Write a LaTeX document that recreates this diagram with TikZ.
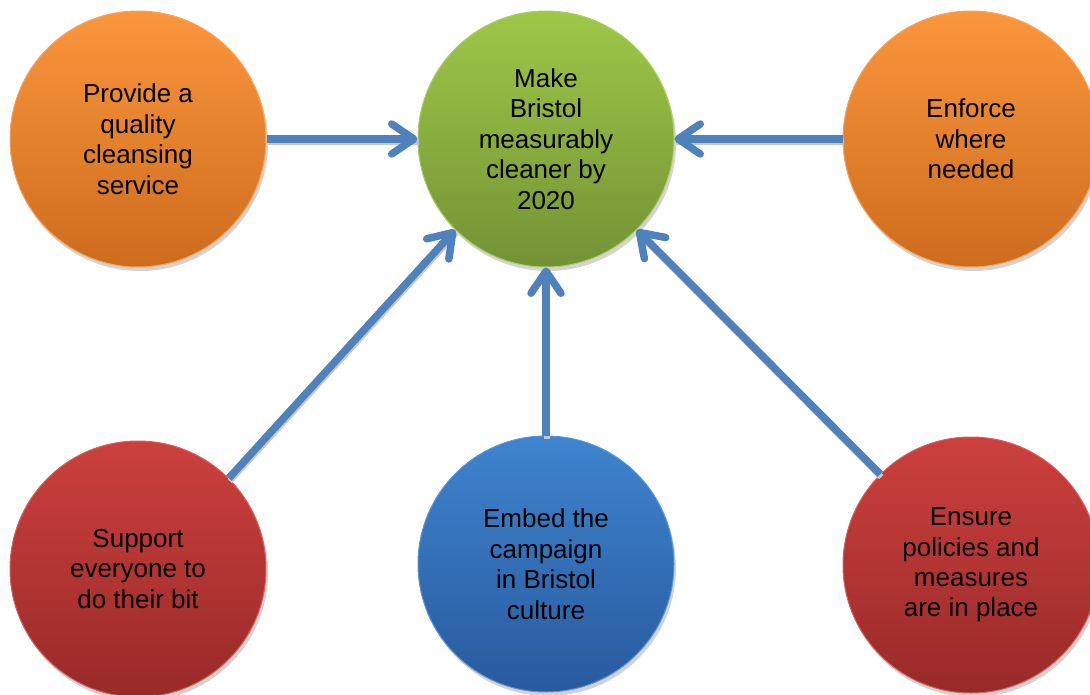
\documentclass[tikz,border=0pt]{standalone}
\usepackage{fontspec}
\setmainfont{Liberation Sans}
\usetikzlibrary{arrows.meta,positioning,shadows}

\definecolor{arrowblue}{RGB}{79,129,189}

\begin{document}
\begin{tikzpicture}[
  x=1pt,y=1pt,
  bub/.style={circle,minimum size=256pt,inner sep=0pt,align=center,
              font=\fontsize{26pt}{30.5pt}\selectfont,line width=1pt,
              drop shadow={shadow xshift=2pt,shadow yshift=-4pt,opacity=0.35}},
  aim/.style={bub,top color={rgb,255:red,158;green,199;blue,72},
              bottom color={rgb,255:red,116;green,146;blue,52},
              draw={rgb,255:red,170;green,208;blue,95}},
  ops/.style={bub,top color={rgb,255:red,250;green,150;blue,60},
              bottom color={rgb,255:red,206;green,108;blue,30},
              draw={rgb,255:red,250;green,166;blue,90}},
  care/.style={bub,top color={rgb,255:red,204;green,64;blue,62},
               bottom color={rgb,255:red,152;green,42;blue,40},
               draw={rgb,255:red,214;green,96;blue,92}},
  cult/.style={bub,top color={rgb,255:red,62;green,132;blue,206},
               bottom color={rgb,255:red,40;green,90;blue,158},
               draw={rgb,255:red,92;green,150;blue,214}},
  arr/.style={-{Straight Barb[length=22pt,width=30pt,line width=0pt 1,
                line cap=round,line join=round]},
              line width=7.5pt,draw=arrowblue,
              preaction={draw=black!22,-,line width=6pt,
                         transform canvas={shift={(1pt,-3pt)}}}}
]
\useasboundingbox (0,0) rectangle (1090,-695);

% centre goal
\node[aim] (goal) at (546,-139) {Make\\Bristol\\measurably\\cleaner by\\2020};

% top row
\node[ops,left=151pt of goal] (service) {Provide a\\quality\\cleansing\\service};
\node[ops,right=168pt of goal] (enforce) {Enforce\\where\\needed};

% bottom row
\node[care,below=173pt of service] (support) {Support\\everyone to\\do their bit};
\node[cult,below=168pt of goal] (embed) {Embed the\\campaign\\in Bristol\\culture};
\node[care,below=169pt of enforce] (policy) {Ensure\\policies and\\measures\\are in place};

\draw[arr] (service) -- (goal);
\draw[arr] (enforce) -- (goal);
\draw[arr] (support.45) -- (goal.225);
\draw[arr] (embed) -- (goal);
\draw[arr] (policy.135) -- (goal.315);
\end{tikzpicture}
\end{document}
